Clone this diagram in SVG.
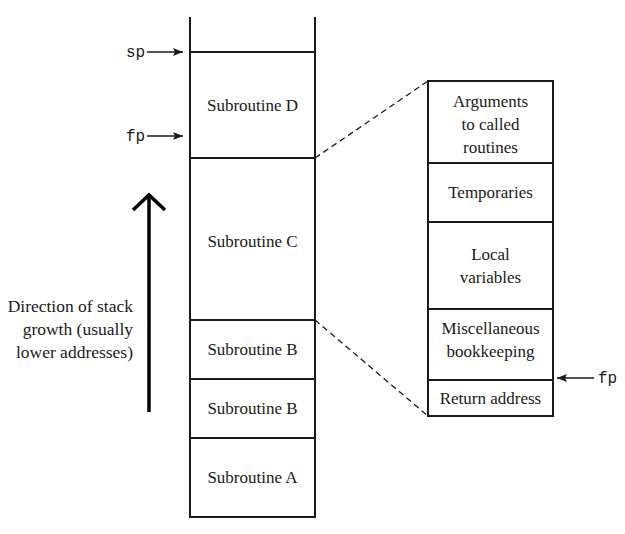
<svg xmlns="http://www.w3.org/2000/svg" width="625" height="534" viewBox="0 0 625 534">
<style>
.box{fill:none;stroke:#1a1a1a;stroke-width:2}
.lbl{font-family:"Liberation Serif",serif;font-size:17px;fill:#1a1a1a;text-anchor:middle}
.side{font-family:"Liberation Serif",serif;font-size:17.5px;fill:#1a1a1a;text-anchor:end}
.mono{font-family:"Liberation Mono",monospace;font-size:16px;fill:#1a1a1a}
.ptr{stroke:#1a1a1a;stroke-width:1.3;fill:none}
.dash{stroke:#1a1a1a;stroke-width:1.3;stroke-dasharray:6 4;fill:none}
</style>
<defs>
<marker id="ah" viewBox="0 0 10 8" refX="10" refY="4" markerWidth="10" markerHeight="8" markerUnits="userSpaceOnUse" orient="auto">
<path d="M0,0 L10,4 L0,8 L2,4 Z" fill="#1a1a1a"/>
</marker>
</defs>
<g id="stack">
<path class="box" d="M190,17 V517 H315 V17"/>
<line class="box" x1="190" y1="52" x2="315" y2="52"/>
<line class="box" x1="190" y1="158" x2="315" y2="158"/>
<line class="box" x1="190" y1="320" x2="315" y2="320"/>
<line class="box" x1="190" y1="379" x2="315" y2="379"/>
<line class="box" x1="190" y1="438" x2="315" y2="438"/>
</g>
<g id="subD"><text class="lbl" x="252.5" y="111">Subroutine D</text></g>
<g id="subC"><text class="lbl" x="252.5" y="247">Subroutine C</text></g>
<g id="subB2"><text class="lbl" x="252.5" y="355">Subroutine B</text></g>
<g id="subB1"><text class="lbl" x="252.5" y="414">Subroutine B</text></g>
<g id="subA"><text class="lbl" x="252.5" y="483">Subroutine A</text></g>
<g id="frame">
<rect class="box" x="428" y="81" width="125" height="335"/>
<line class="box" x1="428" y1="163" x2="553" y2="163"/>
<line class="box" x1="428" y1="222" x2="553" y2="222"/>
<line class="box" x1="428" y1="309" x2="553" y2="309"/>
<line class="box" x1="428" y1="380" x2="553" y2="380"/>
</g>
<g id="args"><text class="lbl" x="490.5" y="107">Arguments</text><text class="lbl" x="490.5" y="130">to called</text><text class="lbl" x="490.5" y="153">routines</text></g>
<g id="temps"><text class="lbl" x="490.5" y="198">Temporaries</text></g>
<g id="locals"><text class="lbl" x="490.5" y="260">Local</text><text class="lbl" x="490.5" y="283">variables</text></g>
<g id="misc"><text class="lbl" x="490.5" y="334">Miscellaneous</text><text class="lbl" x="490.5" y="357">bookkeeping</text></g>
<g id="ret"><text class="lbl" x="490.5" y="404">Return address</text></g>
<g id="direction">
<text class="side" x="133" y="312">Direction of stack</text>
<text class="side" x="133" y="335">growth (usually</text>
<text class="side" x="133" y="358">lower addresses)</text>
</g>
<g id="labels">
<text class="mono" x="126" y="57">sp</text>
<text class="mono" x="126" y="141">fp</text>
<text class="mono" x="598" y="383">fp (</text>
</g>
<g id="connectors">
<line class="ptr" x1="147" y1="52" x2="183" y2="52" marker-end="url(#ah)"/>
<line class="ptr" x1="147" y1="136" x2="183" y2="136" marker-end="url(#ah)"/>
<line class="ptr" x1="594" y1="378" x2="557" y2="378" marker-end="url(#ah)"/>
<line class="dash" x1="315" y1="158" x2="428" y2="81"/>
<line class="dash" x1="315" y1="320" x2="428" y2="416"/>
<line x1="149" y1="412" x2="149" y2="197" stroke="#000" stroke-width="3.5"/>
<polyline points="133,210 149,195 165,210" fill="none" stroke="#000" stroke-width="3.5"/>
</g>
</svg>
